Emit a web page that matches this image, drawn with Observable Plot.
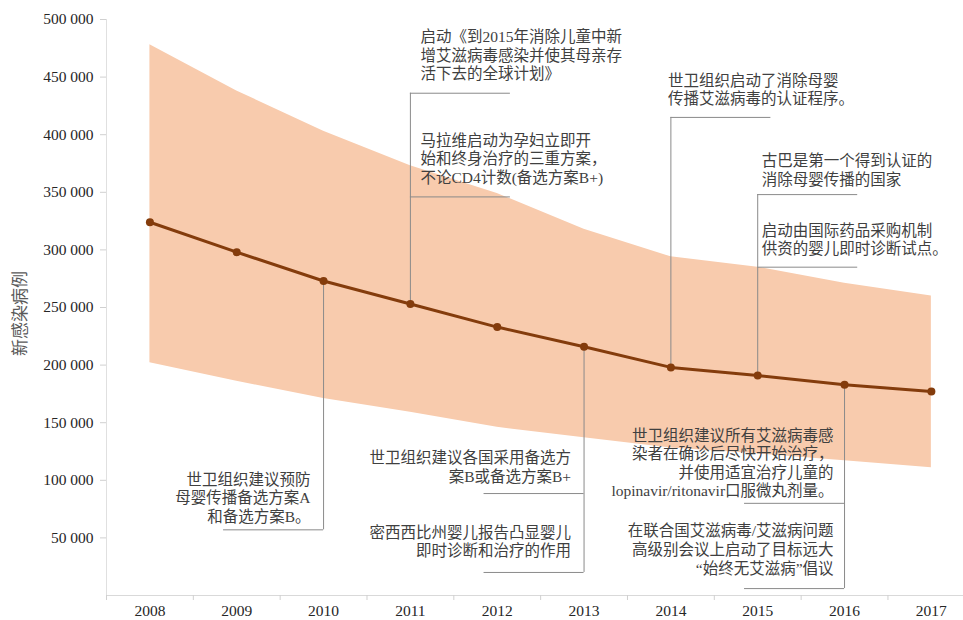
<!DOCTYPE html>
<html>
<head>
<meta charset="utf-8">
<script src="https://cdn.jsdelivr.net/npm/d3@7"></script>
<script src="https://cdn.jsdelivr.net/npm/@observablehq/plot@0.6"></script>
<style>
  body { margin: 0; background: #fff; }
</style>
</head>
<body>
<div id="chart"></div>
<script>
// New child HIV infections: point estimate with uncertainty bounds
const years    = [2008, 2009, 2010, 2011, 2012, 2013, 2014, 2015, 2016, 2017];
const estimate = [324000, 298000, 273000, 253000, 233000, 216000, 198000, 191000, 183000, 177000];
const lower    = [202000, 186000, 171000, 159000, 146000, 137000, 128000, 123000, 117000, 111000];
const upper    = [478000, 438000, 403000, 373000, 349000, 318000, 294000, 285000, 271000, 260000];

const yTicks = [50000, 100000, 150000, 200000, 250000, 300000, 350000, 400000, 450000, 500000];
const yTitle = "新感染病例";

// Milestones, keyed by the year they are attached to
const noteYears = [2010, 2011, 2011, 2013, 2013, 2014, 2015, 2015, 2016, 2016];
const noteTexts = [
  "世卫组织建议预防\n母婴传播备选方案A\n和备选方案B。",
  "启动《到2015年消除儿童中新\n增艾滋病毒感染并使其母亲存\n活下去的全球计划》",
  "马拉维启动为孕妇立即开\n始和终身治疗的三重方案，\n不论CD4计数(备选方案B+)",
  "世卫组织建议各国采用备选方\n案B或备选方案B+",
  "密西西比州婴儿报告凸显婴儿\n即时诊断和治疗的作用",
  "世卫组织启动了消除母婴\n传播艾滋病毒的认证程序。",
  "古巴是第一个得到认证的\n消除母婴传播的国家",
  "启动由国际药品采购机制\n供资的婴儿即时诊断试点。",
  "世卫组织建议所有艾滋病毒感\n染者在确诊后尽快开始治疗，\n并使用适宜治疗儿童的\nlopinavir/ritonavir口服微丸剂量。",
  "在联合国艾滋病毒/艾滋病问题\n高级别会议上启动了目标远大\n“始终无艾滋病”倡议"
];
// Layout of each callout: the level of its underline, the side it opens to, text nudge (px)
const noteLevels  = [57000, 436000, 346000, 88500, 20000, 415000, 348000, 285000, 80000, 6000];
const noteSides   = ["left", "right", "right", "left", "left", "right", "right", "right", "left", "left"];
const noteNudge   = [-13, 10, 10, -13, -13, -3, 4, 4, -11, -11];
const noteLift    = [-8, -14, -14, -12, -16, -13, -10, -13, -7, -15];

const width = 963, height = 620;
const marginLeft = 106, marginRight = 0, marginTop = 19, marginBottom = 25;
const xDomain = [2007.5, 2017.37];
const pxPerYear = (width - marginLeft - marginRight) / (xDomain[1] - xDomain[0]);
const underline = 100 / pxPerYear;

const data = years.map((year, i) => ({year, estimate: estimate[i], lower: lower[i], upper: upper[i]}));
const notes = noteYears.map((year, i) => ({
  year,
  text: noteTexts[i],
  level: noteLevels[i],
  side: noteSides[i],
  tx: year + noteNudge[i] / pxPerYear,
  lift: noteLift[i]
}));

// One connector per annotated year, from the point to the furthest underline
const connectors = Array.from(d3.group(notes, d => d.year), ([year, group]) => {
  const v = estimate[years.indexOf(year)];
  const levels = group.map(d => d.level);
  const to = levels[0] < v ? d3.min(levels) : d3.max(levels);
  return {year, from: v, to};
});

const boundaries = d3.range(2007.5, 2017.6, 1);
const fmt = d => d3.format(",")(d).replace(/,/g, " ");
const lineGray = "#8a8a8a";
const textColor = "#404040";

const textMarks = notes.map(d => Plot.text([d], {
  x: "tx",
  y: "level",
  text: "text",
  textAnchor: d.side === "left" ? "end" : "start",
  lineAnchor: "bottom",
  lineHeight: 1.2,
  dy: d.lift,
  fill: textColor,
  fontSize: 15.5
}));

const chart = Plot.plot({
  width, height, marginLeft, marginRight, marginTop, marginBottom,
  style: {
    fontFamily: "'Liberation Serif', 'Noto Sans CJK SC', serif",
    fontSize: "15.5px",
    color: "#262626",
    background: "#fff",
    overflow: "visible"
  },
  x: {type: "linear", domain: xDomain, label: null},
  y: {domain: [0, 500000], label: null},
  marks: [
    Plot.areaY(data, {x: "year", y1: "lower", y2: "upper", fill: "#f8cbad"}),
    Plot.ruleX([xDomain[0]], {y1: 0, y2: 500000, stroke: "#e0e0e0"}),
    Plot.ruleY([0], {stroke: "#d9d9d9"}),
    Plot.axisY(yTicks, {tickSize: 6, tickPadding: 7, tickFormat: fmt, stroke: "#d0d0d0", fill: "#262626", label: null}),
    Plot.axisX(boundaries, {tickSize: 5, tickFormat: () => "", stroke: "#d0d0d0", label: null}),
    Plot.axisX(years, {tickSize: 0, tickPadding: 9, tickFormat: d => String(d), fill: "#262626", label: null}),
    Plot.ruleX(connectors, {x: "year", y1: "from", y2: "to", stroke: lineGray, strokeWidth: 1}),
    Plot.ruleY(notes, {
      y: "level",
      x1: "year",
      x2: d => d.side === "left" ? d.year - underline : d.year + underline,
      stroke: lineGray,
      strokeWidth: 1
    }),
    Plot.lineY(data, {x: "year", y: "estimate", stroke: "#843c0c", strokeWidth: 3}),
    Plot.dot(data, {x: "year", y: "estimate", r: 4, fill: "#843c0c"}),
    Plot.text([yTitle], {
      x: xDomain[0],
      y: 250000,
      rotate: -90,
      dx: -86,
      dy: 6,
      fill: "#595959",
      fontSize: 17
    }),
    ...textMarks
  ]
});

document.getElementById("chart").appendChild(chart);
</script>
</body>
</html>
